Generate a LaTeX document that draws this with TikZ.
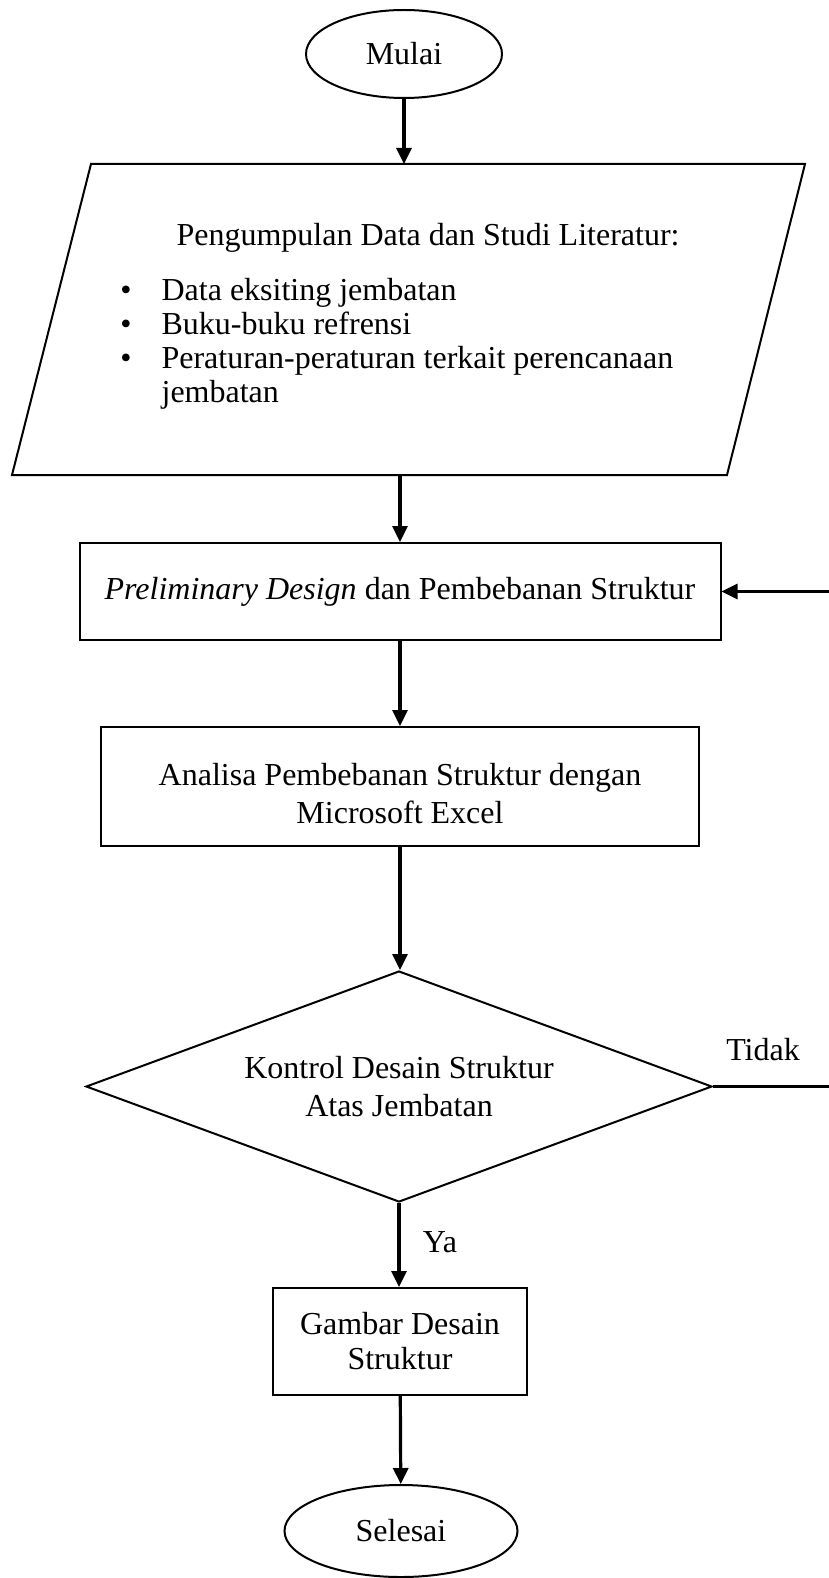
\documentclass[tikz,border=0pt]{standalone}
\usepackage{fontspec}
\setmainfont{Liberation Serif}
\usetikzlibrary{arrows.meta,shapes.geometric,positioning}

\tikzset{
  box/.style={draw, line width=1pt, rectangle, align=center, inner sep=0pt},
  startstop/.style={draw, line width=1pt, ellipse, inner sep=0pt},
  decision/.style={draw, line width=1pt, diamond, aspect=2.7, align=center, inner sep=0pt},
  flow/.style={line width=1.6pt, -{Triangle[length=8pt,width=7.5pt]}},
  plain/.style={line width=1.6pt}
}

\begin{document}
\begin{tikzpicture}[x=0.5pt, y=-0.5pt, font=\fontsize{16}{19}\selectfont]
\useasboundingbox (0,0) rectangle (829,1578);

% mulai
\node[startstop, minimum width=98pt, minimum height=44pt] (mulai) at (404,54) {Mulai};

% data dan literatur
\draw[line width=1pt] (91,164) -- (805,164) -- (727,475) -- (12,475) -- cycle;
\coordinate (dataIn) at (404,164);
\coordinate (dataOut) at (400,475);
\node (judul) at (428,238) {Pengumpulan Data dan Studi Literatur:};
\node[anchor=north west, inner sep=0pt, font=\fontsize{16}{17}\selectfont] (daftar) at (120,276) {%
  \begin{tabular}{@{}l@{\hspace{15pt}}l@{}}
  \textbullet & Data eksiting jembatan\\
  \textbullet & Buku-buku refrensi\\
  \textbullet & Peraturan-peraturan terkait perencanaan\\
              & jembatan
  \end{tabular}};

% proses
\node[box, minimum width=320.5pt, minimum height=48.5pt] (prelim) at (400,591.5)
  {\textit{Preliminary Design} dan Pembebanan Struktur};
\node[box, minimum width=299.25pt, minimum height=59.5pt] (analisa) at (400,786.5)
  {\rule{0pt}{18pt}Analisa Pembebanan Struktur dengan\\ Microsoft Excel};
\node[decision, minimum width=313pt, minimum height=115.5pt] (kontrol) at (399,1086.5)
  {Kontrol Desain Struktur\\ Atas Jembatan};
\node[box, minimum width=127pt, minimum height=53.5pt, font=\fontsize{16}{17.5}\selectfont] (gambar) at (400,1341.5)
  {Gambar Desain\\ Struktur};

% selesai
\node[startstop, minimum width=116.5pt, minimum height=46pt] (selesai) at (401,1531) {Selesai};

% label
\node (tidak) at (763,1050) {Tidak};
\node (ya) at (440,1242) {Ya};

% panah
\coordinate (balik) at (829,591.5);
\coordinate (tidakKanan) at (829,1086.5);
\draw[flow] (mulai) -- (dataIn);
\draw[flow] (dataOut) -- (prelim.north);
\draw[flow] (prelim) -- (analisa);
\draw[flow] (analisa.south) -- (analisa.south |- kontrol.north);
\draw[flow] (kontrol.south) -- (kontrol.south |- gambar.north);
\draw[flow] (gambar) -- (selesai);
\draw[plain] (kontrol.east) -- (tidakKanan);
\draw[flow] (balik) -- (prelim.east);
\end{tikzpicture}
\end{document}
